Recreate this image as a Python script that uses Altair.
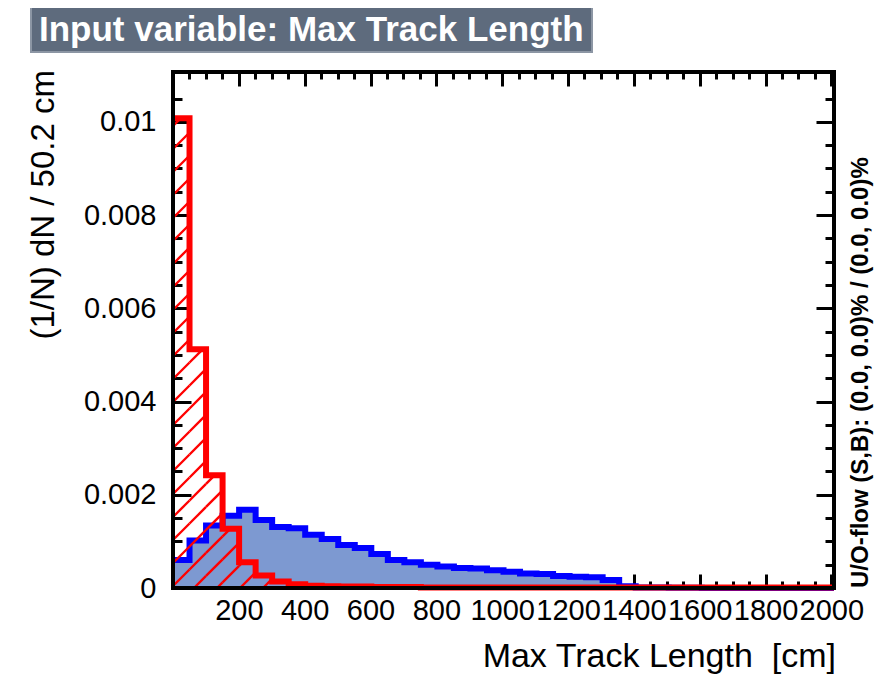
import altair as alt
import pandas as pd

# ---------------- data ----------------
BIN_WIDTH = 50.2
N_BINS = 40
X_MAX = 2008.0
Y_MAX = 0.01107

# signal (blue, filled) - 1/N dN per bin
signal = [0.00060, 0.00102, 0.00134, 0.00155, 0.00168, 0.00146, 0.00131, 0.00128,
          0.00114, 0.00105, 0.00092, 0.00086, 0.00073, 0.00060, 0.00055, 0.00050,
          0.00046, 0.00043, 0.00042, 0.00038, 0.00035, 0.00031, 0.00030, 0.00026,
          0.00024, 0.00023, 0.00017, 0.00004, 0.00001, 0.00001, 0.000005, 0.000005,
          0.0, 0.0, 0.0, 0.0, 0.0, 0.0, 0.0, 0.0]
# background (red, hatched)
background = [0.01008, 0.00512, 0.00242, 0.00127, 0.00055, 0.00027, 0.00014, 0.00008,
              0.00005, 0.00004, 0.00003, 0.00003, 0.00002, 0.00002, 0.00002, 0.00001,
              0.00001, 0.00001, 0.00001, 0.00001, 0.00001, 0.00001, 0.00001, 0.00001,
              0.00001, 0.00001, 0.00001, 0.00001, 0.00001, 0.00001, 0.00001, 0.00001,
              0.00001, 0.00001, 0.00001, 0.00001, 0.00001, 0.00001, 0.00001, 0.00001]

x_major = [200, 400, 600, 800, 1000, 1200, 1400, 1600, 1800, 2000]
x_minor = [v for v in range(50, 2001, 50) if v % 200 != 0]
y_major = [0.0, 0.002, 0.004, 0.006, 0.008, 0.01]
y_minor = [round(k * 0.0005, 4) for k in range(1, 22) if k % 4 != 0]

TITLE = "Input variable: Max Track Length"
X_TITLE = "Max Track Length\u00a0\u00a0[cm]"
Y_TITLE = "(1/N) dN / 50.2 cm"
UO_TEXT = "U/O-flow (S,B): (0.0, 0.0)% / (0.0, 0.0)%"

# ---------------- layout ----------------
W, H = 661, 516
FONT = "Liberation Sans"

edges = [i * BIN_WIDTH for i in range(N_BINS + 1)]
hist = pd.DataFrame({
    "x": edges,
    "sig": signal + [signal[-1]],
    "bkg": background + [background[-1]],
})

# hatch lines ("/" at 45 degrees in screen space) clipped to background bins
ax = W / X_MAX
ay = H / Y_MAX
SPACING = 23.0
PHASE = -2.0
segs = []
max_h = max(background) * ay
k_lo = int(-max_h // SPACING) - 2
k_hi = int(W // SPACING) + 2
for i, h in enumerate(background):
    X0 = edges[i] * ax
    X1 = edges[i + 1] * ax
    Hp = h * ay
    for k in range(k_lo, k_hi + 1):
        c = PHASE + k * SPACING
        xs_ = max(X0, c)
        xe_ = min(X1, c + Hp)
        if xe_ > xs_ + 0.01:
            segs.append({"x": xs_ / ax, "y": (xs_ - c) / ay,
                         "x2": xe_ / ax, "y2": (xe_ - c) / ay})
hatch = pd.DataFrame(segs)

xs = alt.Scale(domain=[0, X_MAX], nice=False, zero=False)
ys = alt.Scale(domain=[0, Y_MAX], nice=False, zero=False)


def tick_axis(orient, values, size, labels=False, **kw):
    return alt.Axis(orient=orient, values=values, offset=-size, tickSize=size,
                    tickWidth=3, tickColor="black", domain=False, grid=False,
                    labels=labels, title=None, **kw)


label_kw = dict(labelFont=FONT, labelFontSize=29, labelColor="black",
                labelOverlap=False, labelFlush=False, labelBound=False)

blue_area = alt.Chart(hist).mark_area(
    interpolate="step-after", color="#7d99d1"
).encode(
    x=alt.X("x:Q", scale=xs, axis=tick_axis("bottom", x_major, 14, True, labelPadding=8, format="d", **label_kw)),
    y=alt.Y("sig:Q", scale=ys, axis=tick_axis("left", y_major, 18, True, labelPadding=17, format="~g", **label_kw)),
)

blue_line = alt.Chart(hist).mark_line(
    interpolate="step-after", color="#0000ff", strokeWidth=6, strokeJoin="miter"
).encode(
    x=alt.X("x:Q", scale=xs, axis=tick_axis("bottom", x_minor, 7)),
    y=alt.Y("sig:Q", scale=ys, axis=tick_axis("left", y_minor, 9)),
)

red_hatch = alt.Chart(hatch).mark_rule(color="#ff0000", strokeWidth=2.4).encode(
    x=alt.X("x:Q", scale=xs, axis=tick_axis("top", x_major, 14)),
    y=alt.Y("y:Q", scale=ys, axis=tick_axis("right", y_major, 18)),
    x2="x2:Q",
    y2="y2:Q",
)

red_line = alt.Chart(hist).mark_line(
    interpolate="step-after", color="#ff0000", strokeWidth=6, strokeJoin="miter"
).encode(
    x=alt.X("x:Q", scale=xs, axis=tick_axis("top", x_minor, 7)),
    y=alt.Y("bkg:Q", scale=ys, axis=tick_axis("right", y_minor, 9)),
)

frame = alt.Chart(pd.DataFrame({"x0": [0.0], "x1": [X_MAX], "y0": [0.0], "y1": [Y_MAX]})).mark_rect(
    filled=False, stroke="black", strokeWidth=4
).encode(
    x=alt.X("x0:Q", scale=xs, axis=None), x2="x1:Q",
    y=alt.Y("y0:Q", scale=ys, axis=None), y2="y1:Q",
)

one = pd.DataFrame({"t": [TITLE]})
title_box = alt.Chart(one).mark_rect(
    fill="#5e6b7d", stroke="#8c96a4", strokeWidth=2
).encode(x=alt.value(-142), x2=alt.value(419), y=alt.value(-68), y2=alt.value(-20))

title_text = alt.Chart(one).mark_text(
    align="left", baseline="alphabetic", font=FONT, fontSize=35, fontWeight="bold", color="white"
).encode(text="t:N", x=alt.value(-134), y=alt.value(-31))

y_title = alt.Chart(pd.DataFrame({"t": [Y_TITLE]})).mark_text(
    angle=270, align="right", baseline="middle", font=FONT, fontSize=33, color="black"
).encode(text="t:N", x=alt.value(-129), y=alt.value(-2))

x_title = alt.Chart(pd.DataFrame({"t": [X_TITLE]})).mark_text(
    align="right", baseline="alphabetic", font=FONT, fontSize=34, color="black"
).encode(text="t:N", x=alt.value(663), y=alt.value(595))

uo_text = alt.Chart(pd.DataFrame({"t": [UO_TEXT]})).mark_text(
    angle=270, align="left", baseline="middle", font=FONT, fontSize=24, fontWeight="bold", color="black"
).encode(text="t:N", x=alt.value(688), y=alt.value(516))

chart = alt.layer(
    blue_area, blue_line, red_hatch, red_line, frame,
    title_box, title_text, y_title, x_title, uo_text
).resolve_axis(
    x="independent", y="independent"
).properties(
    width=W, height=H,
    autosize=alt.AutoSizeParams(type="none"),
    padding={"left": 165, "top": 64, "right": 42, "bottom": 87},
    background="white",
).configure_view(stroke=None)

chart.save("out.html", embed_options={"renderer": "svg", "actions": False})
